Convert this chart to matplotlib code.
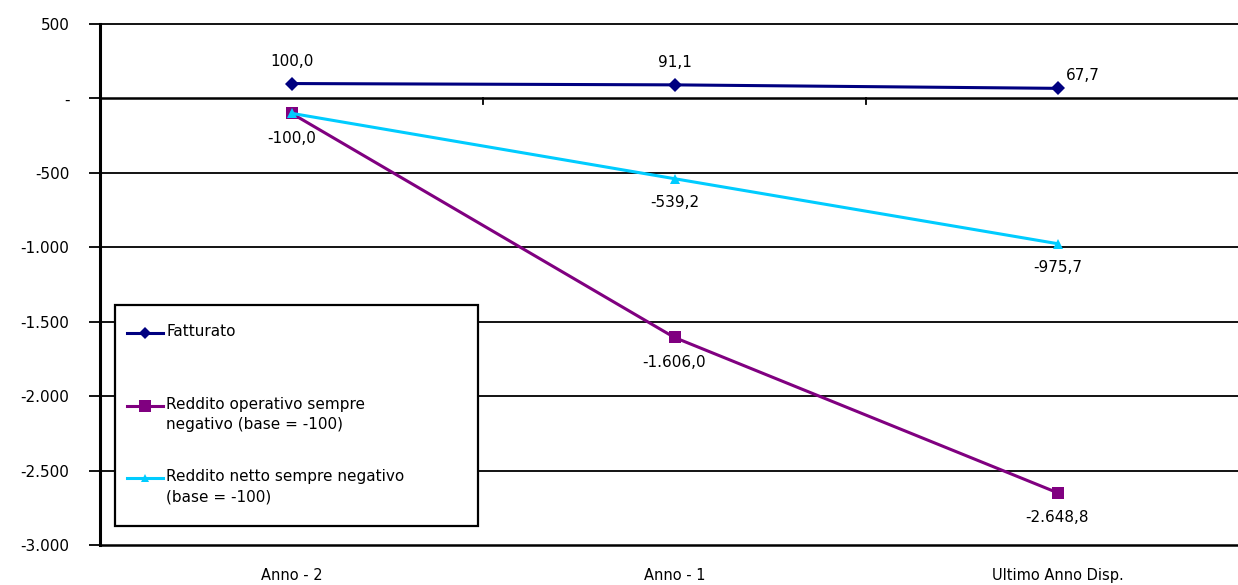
import matplotlib.pyplot as plt
from matplotlib.lines import Line2D
from matplotlib.patches import Rectangle
from matplotlib.ticker import FixedLocator, FuncFormatter

categories = ['Anno - 2', 'Anno - 1', 'Ultimo Anno Disp.']
fatturato = [100.0, 91.1, 67.7]
reddito_operativo = [-100.0, -1606.0, -2648.8]
reddito_netto = [-100.0, -539.2, -975.7]
y_ticks = [500, 0, -500, -1000, -1500, -2000, -2500, -3000]

series_names = ['Fatturato',
                'Reddito operativo sempre\nnegativo (base = -100)',
                'Reddito netto sempre negativo\n(base = -100)']
series_styles = [dict(color='#000080', marker='D', ms=7),
                 dict(color='#800080', marker='s', ms=9),
                 dict(color='#00CCFF', marker='^', ms=7)]

plt.rcParams['font.family'] = 'DejaVu Sans'
FS = 11


def it_number(v, decimals=1):
    s = f'{abs(v):,.{decimals}f}'
    s = s.replace(',', 'X').replace('.', ',').replace('X', '.')
    return ('-' if v < 0 else '') + s


def tick_fmt(v, pos):
    if v == 0:
        return '-'
    return it_number(v, 0)


W, H = 1238, 585
AX_L, AX_R, AX_T, AX_B = 100, 1238, 24, 545
fig = plt.figure(figsize=(W / 100, H / 100), dpi=100)
ax = fig.add_axes([AX_L / W, (H - AX_B) / H, (AX_R - AX_L) / W, (AX_B - AX_T) / H])


def px(xp, yp):
    # pixel position -> axes fraction
    return (xp - AX_L) / (AX_R - AX_L), (AX_B - yp) / (AX_B - AX_T)


x = list(range(len(categories)))
z = [4, 3, 5]
for vals, st, zo in zip([fatturato, reddito_operativo, reddito_netto],
                        series_styles, z):
    ax.plot(x, vals, lw=2.2, zorder=zo, markeredgewidth=0, **st)

ax.set_xlim(-0.5, -0.5 + (AX_R - AX_L) / 383)
ax.set_ylim(-3000, 500)

# horizontal gridlines in black at every 500
for v in y_ticks:
    ax.axhline(v, color='black', lw=1.8 if v in (0, -3000) else 1.3,
               zorder=1, clip_on=False)

ax.yaxis.set_major_locator(FixedLocator(y_ticks))
ax.yaxis.set_major_formatter(FuncFormatter(tick_fmt))
ax.tick_params(axis='y', length=8, width=1.3, labelsize=FS, pad=14)
ax.set_xticks([])

# category separators hang from the zero line
for sep in [0.5, 1.5]:
    ax.plot([sep, sep], [0, -35], color='black', lw=1.3, zorder=2,
            clip_on=False)

for xi, name in zip(x, categories):
    ax.annotate(name, (xi, -3000), xytext=(0, -22), textcoords='offset points',
                ha='center', va='center', fontsize=FS - 0.5)

for s in ['top', 'right', 'bottom']:
    ax.spines[s].set_visible(False)
ax.spines['left'].set_linewidth(2.2)

# data labels
kw = dict(textcoords='offset points', fontsize=FS, va='center')
for xi, v in zip(x[:2], fatturato[:2]):
    ax.annotate(it_number(v), (xi, v), xytext=(0, 16), ha='center', **kw)
ax.annotate(it_number(fatturato[2]), (x[2], fatturato[2]), xytext=(6, 9),
            ha='left', **kw)
for xi, v in zip(x, reddito_operativo):
    ax.annotate(it_number(v), (xi, v), xytext=(0, -18), ha='center', **kw)
for xi, v in zip(x[1:], reddito_netto[1:]):
    ax.annotate(it_number(v), (xi, v), xytext=(0, -17), ha='center', **kw)

# legend box, handles aligned with the first line of each entry
x0, y0 = px(115, 526)
x1, y1 = px(478, 305)
ax.add_patch(Rectangle((x0, y0), x1 - x0, y1 - y0, transform=ax.transAxes,
                       facecolor='white', edgecolor='black', lw=1.6,
                       zorder=6))
for name, st, row in zip(series_names, series_styles, [333, 406, 478]):
    hx0, ry = px(127, row)
    hx1, _ = px(163, row)
    tx, ty = px(166, row - 9)
    ax.add_line(Line2D([hx0, hx1], [ry, ry], transform=ax.transAxes,
                       lw=2.2, zorder=7, color=st['color']))
    ax.add_line(Line2D([(hx0 + hx1) / 2], [ry], transform=ax.transAxes,
                       zorder=7, lw=0, markeredgewidth=0, color=st['color'],
                       marker=st['marker'], ms=st['ms'] - 1))
    ax.text(tx, ty, name, transform=ax.transAxes, ha='left', va='top',
            fontsize=FS, zorder=7, linespacing=1.45)

fig.savefig('out.png', dpi=100)
